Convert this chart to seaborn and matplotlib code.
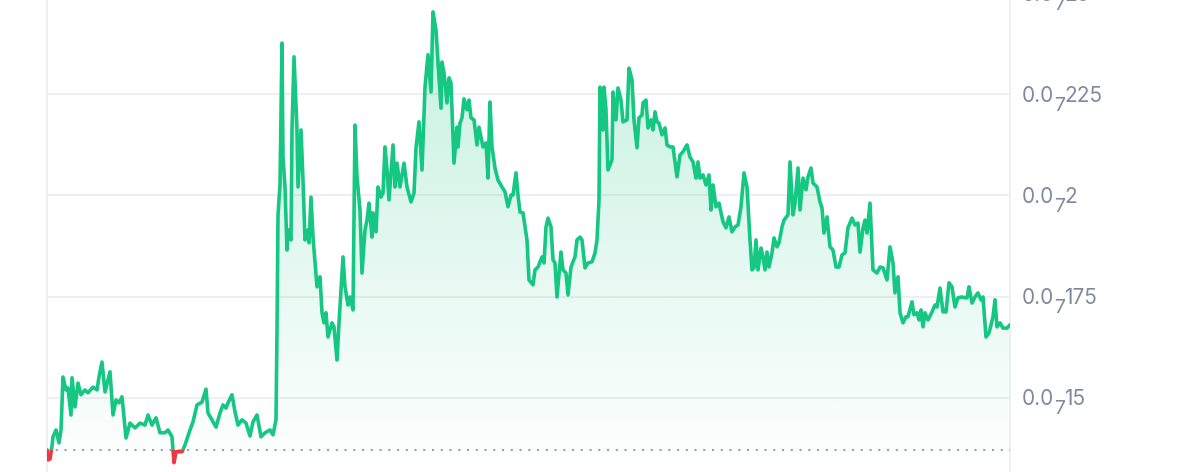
import numpy as np
import matplotlib
matplotlib.use("Agg")
import matplotlib.pyplot as plt
from matplotlib.patches import Rectangle
import seaborn as sns

# time steps (relative, start -> end of the window)
t = [0, 1, 3, 5, 6, 9, 12, 14, 16, 19, 21, 24, 25, 28, 31, 34, 38, 41, 46, 50,
     52, 55, 58, 63, 66, 69, 72, 75, 79, 83, 88, 93, 98, 101, 105, 109, 113, 118, 121, 125,
     127, 129, 132, 135, 138, 143, 146, 150, 155, 159, 161, 165, 169, 173, 176, 179, 181, 185, 188, 191,
     195, 199, 203, 206, 210, 214, 218, 223, 226, 229, 230, 231, 233, 235, 236, 238, 240, 241, 244, 245,
     247, 250, 251, 254, 256, 258, 261, 262, 264, 266, 270, 273, 275, 277, 279, 281, 285, 287, 290, 292,
     296, 298, 301, 303, 306, 308, 310, 313, 315, 318, 320, 322, 325, 326, 329, 331, 334, 336, 338, 340,
     342, 346, 348, 350, 353, 357, 360, 364, 367, 369, 372, 375, 378, 381, 384, 386, 389, 391, 394, 395,
     397, 400, 402, 404, 407, 410, 411, 413, 415, 417, 420, 422, 424, 427, 430, 432, 436, 439, 441, 443,
     445, 448, 451, 455, 458, 461, 464, 466, 469, 471, 473, 476, 480, 482, 486, 488, 491, 495, 497, 499,
     501, 504, 506, 508, 510, 514, 516, 519, 521, 524, 526, 528, 530, 533, 535, 538, 541, 545, 548, 550,
     552, 553, 556, 557, 559, 561, 565, 566, 569, 571, 574, 576, 580, 582, 585, 587, 590, 592, 595, 596,
     599, 601, 604, 606, 608, 610, 612, 615, 618, 620, 623, 626, 630, 633, 636, 640, 643, 646, 649, 651,
     653, 656, 659, 662, 664, 666, 669, 672, 676, 679, 682, 685, 688, 691, 694, 697, 700, 703, 705, 707,
     709, 711, 714, 716, 718, 720, 722, 725, 727, 730, 732, 735, 737, 741, 743, 746, 748, 751, 753, 756,
     759, 761, 764, 766, 770, 773, 775, 777, 780, 783, 786, 789, 792, 795, 798, 801, 805, 808, 811, 813,
     816, 818, 820, 823, 826, 830, 833, 836, 840, 843, 846, 848, 851, 853, 856, 859, 861, 865, 867, 870,
     872, 874, 876, 878, 881, 885, 888, 890, 893, 896, 899, 902, 905, 908, 911, 915, 918, 920, 922, 925,
     928, 931, 934, 936, 939, 942, 946, 948, 950, 953, 956, 960, 963]

# price in units of 1e-8
price = [1.371, 1.346, 1.348, 1.380, 1.403, 1.420, 1.388, 1.420, 1.551, 1.519, 1.524, 1.457, 1.549, 1.477, 1.536, 1.507, 1.519, 1.512, 1.526, 1.519,
         1.551, 1.588, 1.514, 1.564, 1.457, 1.494, 1.487, 1.502, 1.400, 1.437, 1.425, 1.437, 1.432, 1.457, 1.432, 1.450, 1.413, 1.413, 1.420, 1.403,
         1.339, 1.366, 1.366, 1.366, 1.383, 1.420, 1.440, 1.482, 1.489, 1.521, 1.462, 1.445, 1.427, 1.462, 1.482, 1.474, 1.487, 1.507, 1.465, 1.432,
         1.445, 1.437, 1.405, 1.440, 1.457, 1.403, 1.413, 1.420, 1.408, 1.445, 1.667, 1.952, 2.026, 2.377, 2.095, 2.021, 1.865, 1.915, 1.890, 2.162,
         2.343, 2.162, 2.021, 2.162, 2.038, 1.890, 1.915, 1.883, 1.996, 1.897, 1.774, 1.799, 1.710, 1.685, 1.710, 1.650, 1.685, 1.675, 1.593, 1.685,
         1.848, 1.774, 1.729, 1.749, 1.717, 2.174, 2.046, 1.964, 1.808, 1.915, 1.939, 1.981, 1.897, 1.957, 1.910, 2.021, 1.996, 2.006, 2.120, 2.063,
         1.989, 2.125, 2.021, 2.080, 2.021, 2.080, 2.021, 1.984, 2.006, 2.118, 2.182, 2.063, 2.268, 2.348, 2.256, 2.454, 2.409, 2.330, 2.216, 2.330,
         2.303, 2.229, 2.291, 2.278, 2.080, 2.169, 2.120, 2.179, 2.192, 2.239, 2.212, 2.236, 2.192, 2.187, 2.125, 2.169, 2.120, 2.130, 2.043, 2.231,
         2.120, 2.068, 2.038, 2.021, 2.009, 1.972, 2.001, 2.001, 2.056, 2.001, 1.959, 1.957, 1.890, 1.791, 1.779, 1.816, 1.823, 1.848, 1.833, 1.922,
         1.944, 1.922, 1.841, 1.833, 1.749, 1.860, 1.816, 1.808, 1.754, 1.823, 1.836, 1.848, 1.890, 1.897, 1.890, 1.821, 1.833, 1.836, 1.858, 1.890,
         1.989, 2.268, 2.162, 2.268, 2.212, 2.063, 2.088, 2.256, 2.187, 2.266, 2.236, 2.182, 2.187, 2.315, 2.286, 2.187, 2.118, 2.192, 2.199, 2.229,
         2.236, 2.167, 2.187, 2.162, 2.207, 2.182, 2.179, 2.150, 2.167, 2.125, 2.120, 2.120, 2.046, 2.100, 2.108, 2.125, 2.095, 2.083, 2.043, 2.083,
         2.043, 2.051, 2.026, 2.051, 1.964, 2.026, 1.972, 1.981, 1.935, 1.920, 1.947, 1.910, 1.922, 1.927, 1.972, 2.056, 2.021, 1.890, 1.816, 1.821,
         1.890, 1.816, 1.870, 1.848, 1.816, 1.860, 1.823, 1.858, 1.895, 1.873, 1.883, 1.922, 1.939, 1.952, 2.083, 1.952, 1.981, 2.068, 1.964, 2.043,
         2.014, 2.046, 2.068, 2.031, 2.021, 1.984, 1.969, 1.907, 1.947, 1.873, 1.865, 1.823, 1.823, 1.853, 1.858, 1.920, 1.944, 1.927, 1.932, 1.860,
         1.920, 1.939, 1.907, 1.981, 1.816, 1.808, 1.823, 1.821, 1.791, 1.873, 1.833, 1.759, 1.799, 1.710, 1.685, 1.700, 1.700, 1.737, 1.705, 1.710,
         1.692, 1.717, 1.675, 1.710, 1.692, 1.712, 1.729, 1.724, 1.771, 1.712, 1.712, 1.784, 1.774, 1.724, 1.747, 1.749, 1.747, 1.747, 1.774, 1.734,
         1.749, 1.759, 1.742, 1.749, 1.650, 1.660, 1.700, 1.742, 1.675, 1.685, 1.672, 1.672, 1.680]

baseline = 1.371
yticks = [1.5, 1.75, 2.0, 2.25, 2.5]

green = "#16c784"
red = "#ea3943"
grey = "#808a9d"

sns.set_style("white")
plt.rcParams["font.family"] = ["Inter", "DejaVu Sans"]

fig = plt.figure(figsize=(12, 4.72), dpi=100)
ax = fig.add_axes([47 / 1200, 0, 963 / 1200, 1])
ymin, ymax = 1.316, 2.4835

# grid
for yv in yticks:
    ax.axhline(yv, color="#efefef", lw=1.4, zorder=0)

# gradient fill under the line
tt = np.array(t, dtype=float)
pp = np.array(price)
grad = np.zeros((256, 1, 4))
rgb = matplotlib.colors.to_rgb(green)
grad[..., 0], grad[..., 1], grad[..., 2] = rgb
grad[..., 3] = np.linspace(0.26, 0.0, 256).reshape(-1, 1)
im = ax.imshow(grad, extent=[0, 963, ymin, ymax], aspect="auto", origin="upper", zorder=1)
poly = ax.fill_between(tt, pp, ymin, facecolor="none", edgecolor="none")
im.set_clip_path(poly.get_paths()[0], transform=ax.transData)

# red fill below baseline
ax.fill_between(tt, pp, baseline, where=pp < baseline, interpolate=True,
                color=red, alpha=0.35, lw=0, zorder=2)

# line: green above baseline, red below
sns.lineplot(x=tt, y=pp, ax=ax, color=green, lw=2.6, estimator=None, sort=False, zorder=4)
l_green = ax.lines[-1]
sns.lineplot(x=tt, y=pp, ax=ax, color=red, lw=2.6, estimator=None, sort=False, zorder=4)
l_red = ax.lines[-1]
for ln in (l_green, l_red):
    ln.set_solid_joinstyle("round")
    ln.set_solid_capstyle("round")

above = Rectangle((0, baseline), 963, ymax - baseline + 1, transform=ax.transData)
below = Rectangle((0, ymin - 1), 963, baseline - ymin + 1, transform=ax.transData)
l_green.set_clip_path(above)
l_red.set_clip_path(below)

# dotted baseline
ax.axhline(baseline, color="#9aa0ab", lw=1.5, linestyle=(0, (1, 3.2)), zorder=3)

ax.set_xlim(0, 963)
ax.set_ylim(ymin, ymax)
ax.set_xticks([])
ax.set_yticks([])

# y labels on the right: "0.0" + lowered 7 + significant digits
renderer = fig.canvas.get_renderer()
ytr = ax.get_yaxis_transform()
for v in yticks:
    digits = f"{v:g}".replace(".", "")
    x_off = 12
    parts = [("0.0", 15, -7.5), ("7", 14, -16.5), (digits, 15, -7.5)]
    for s, size, dy in parts:
        txt = ax.annotate(s, xy=(1, v), xycoords=ytr, xytext=(x_off, dy),
                          textcoords="offset pixels", ha="left", va="baseline",
                          fontsize=size, color=grey, annotation_clip=False)
        x_off += txt.get_window_extent(renderer).width - 0.5

for side in ["top", "bottom"]:
    ax.spines[side].set_visible(False)
for side in ["left", "right"]:
    ax.spines[side].set_color("#efefef")
    ax.spines[side].set_linewidth(1.4)
ax.set_xlabel("")
ax.set_ylabel("")

fig.savefig("out.png", dpi=100)
